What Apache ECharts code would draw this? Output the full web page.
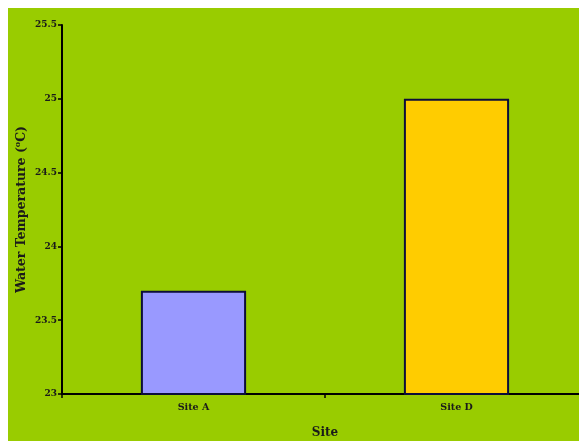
<!DOCTYPE html>
<html><head><meta charset="utf-8">
<script src="https://cdn.jsdelivr.net/npm/echarts@6/dist/echarts.min.js"></script>
<style>html,body{margin:0;padding:0;background:#fff;width:579px;height:441px;overflow:hidden}
#c{position:absolute;left:8px;top:8px;width:571px;height:433px}</style>
</head><body><div id="c"></div>
<script>
var categories = ["Site A", "Site D"];
var temps = [23.7, 25.0];
var barColors = ["#9999FF", "#FFCC00"];
var yMin = 23, yMax = 25.5, yStep = 0.5;

var font = "'DejaVu Serif', 'Liberation Serif', serif";
var chart = echarts.init(document.getElementById('c'));
chart.setOption({
  backgroundColor: '#99CC00',
  animation: false,
  grid: {left: 54, top: 17, bottom: 47, right: -9, containLabel: false, outerBoundsMode: 'none'},
  xAxis: {
    type: 'category', data: categories,
    axisLine: {lineStyle: {color: '#000', width: 2}},
    axisTick: {show: true, alignWithLabel: false, length: 4, lineStyle: {color: '#000', width: 1.5}},
    axisLabel: {color: '#1a1a1a', fontFamily: font, fontWeight: 'bold', fontSize: 9.5, margin: 9},
    name: 'Site', nameLocation: 'middle', nameGap: 33, nameMoveOverlap: false,
    nameTextStyle: {color: '#1a1a1a', fontFamily: font, fontWeight: 'bold', fontSize: 12}
  },
  yAxis: {
    type: 'value', min: yMin, max: yMax, interval: yStep,
    splitLine: {show: false},
    axisLine: {show: true, lineStyle: {color: '#000', width: 2}},
    axisTick: {show: true, length: 4, lineStyle: {color: '#000', width: 1.5}},
    axisLabel: {color: '#1a1a1a', fontFamily: font, fontWeight: 'bold', fontSize: 9, margin: 5},
    name: '{a|Water Temperature (}{s|o}{a|C)}', nameLocation: 'middle', nameGap: 33, nameRotate: 90, nameMoveOverlap: false,
    nameTextStyle: {rich: {
      a: {color: '#1a1a1a', fontFamily: font, fontWeight: 'bold', fontSize: 12.5},
      s: {color: '#1a1a1a', fontFamily: font, fontWeight: 'bold', fontSize: 8, verticalAlign: 'top', padding: [0,0,7,0]}
    }}
  },
  series: [{
    type: 'bar', barWidth: '40%',
    data: temps.map(function (v, i) {
      return {value: v, itemStyle: {color: barColors[i], borderColor: '#0d0d3a', borderWidth: 2}};
    })
  }]
});
</script></body></html>
